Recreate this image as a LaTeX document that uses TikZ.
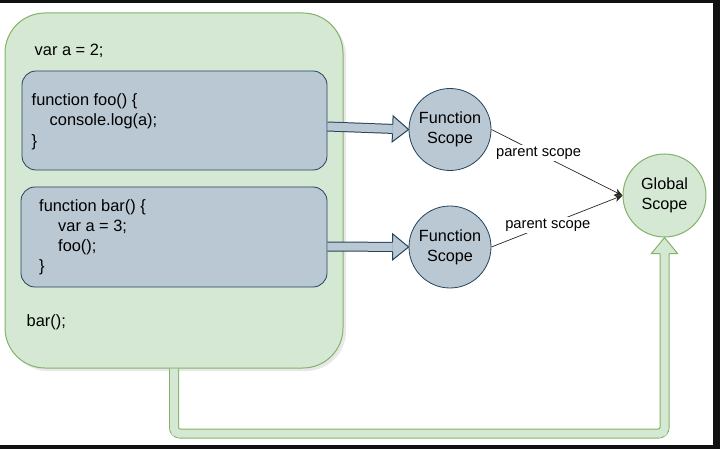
\documentclass[tikz,border=0pt]{standalone}
\usepackage{fontspec}
\setmainfont{Liberation Sans}
\usetikzlibrary{calc,arrows.meta,shadows}
\definecolor{gfill}{HTML}{D5E8D4}
\definecolor{gline}{HTML}{82B366}
\definecolor{bfill}{HTML}{BAC8D3}
\definecolor{bline}{HTML}{23445D}
\definecolor{framecol}{HTML}{111111}
% flat block arrow: #1 start, #2 tip, #3 colour prefix (b or g)
\newcommand\flexarr[3]{%
  \coordinate (fab) at ($(#2)!16pt!(#1)$);
  \draw[#3line, line width=10pt] (#1) -- (fab);
  \draw[#3fill, line width=8pt] (#1) -- (fab);
  \filldraw[fill=#3fill, draw=#3line, line width=1pt, line join=miter]
    ($(fab)!4.5pt!90:(#2)$) -- ($(fab)!13pt!90:(#2)$) -- (#2)
    -- ($(fab)!13pt!-90:(#2)$) -- ($(fab)!4.5pt!-90:(#2)$);
}
\begin{document}
\begin{tikzpicture}[x=1pt,y=-1pt,
  code/.style={font=\fontsize{16.4}{20.3}\selectfont, inner sep=0pt, anchor=west, align=left, text=black},
  outerbox/.style={draw=gline, fill=gfill, line width=1pt, rounded corners=40pt, inner sep=0pt,
     minimum width=338pt, minimum height=355pt,
     drop shadow={shadow xshift=3pt, shadow yshift=-3pt, opacity=0.18}},
  funbox/.style={draw=bline, fill=bfill, line width=0.8pt, rounded corners=14pt, inner sep=0pt},
  scopenode/.style={circle, draw=bline, fill=bfill, line width=0.8pt, minimum size=82pt, inner sep=0pt,
     align=center, font=\fontsize{16.2}{20}\selectfont, text=black},
  globalnode/.style={circle, draw=gline, fill=gfill, line width=1pt, minimum size=83pt, inner sep=0pt,
     align=center, font=\fontsize{16.2}{20}\selectfont, text=black},
  parentline/.style={draw=black!85, line width=0.7pt, -{Stealth[length=8pt,width=7pt]}},
  lbl/.style={fill=white, inner sep=1.5pt, font=\fontsize{14.7}{16}\selectfont, text=black}
]
\useasboundingbox (0,0) rectangle (720,449);
\fill[framecol] (0,0) rectangle (720,449);
\fill[white] (0,3) rectangle (713,445);

% outer global box
\node[outerbox] (outer) at (174,190.5) {};
% function boxes
\node[funbox, minimum width=305pt, minimum height=99pt] (foo) at (174.5,120.5) {};
\node[funbox, minimum width=306pt, minimum height=100pt] (bar) at (174,237) {};

% texts
\node[code] (t1) at (34.5,51) {var a = 2;};
\node[code] (t2) at (31.5,121.5) {function foo() \{\\\hspace*{18pt}console.log(a);\\\}};
\node[code] (t3) at (39,237.3) {function bar() \{\\\hspace*{19pt}var a = 3;\\\hspace*{19pt}foo();\\\}};
\node[code] (t4) at (26.5,322.5) {bar();};

% scope circles
\node[scopenode] (fs1) at (450,129.5) {Function\\Scope};
\node[scopenode] (fs2) at (450,247) {Function\\Scope};
\node[globalnode] (gs) at (664.5,195.5) {Global\\Scope};

% block arrows from functions to their scopes
\coordinate (a1s) at ($(foo.east)+(0,6)$);
\coordinate (a2s) at ($(bar.east)+(0,9.5)$);
\flexarr{a1s}{fs1.west}{b}
\flexarr{a2s}{fs2.west}{b}

% green block arrow from outer box to global scope
\coordinate (gb) at ($(gs.south)+(0,16)$);
\coordinate (gc1) at (outer.south |- 0,433.5);
\coordinate (gc2) at (gs.south |- 0,433.5);
\draw[gline, line width=10pt, rounded corners=6pt] (outer.south) -- (gc1) -- (gc2) -- (gb);
\draw[gfill, line width=8pt, rounded corners=5pt] (outer.south) -- (gc1) -- (gc2) -- (gb);
\filldraw[fill=gfill, draw=gline, line width=1pt, line join=miter]
  ($(gb)+(-4.5,0)$) -- ($(gb)+(-13,0)$) -- (gs.south) -- ($(gb)+(13,0)$) -- ($(gb)+(4.5,0)$);

% parent scope connectors
\draw[parentline] (fs1.east) -- (gs.west) node[lbl, pos=0.36] (l1) {parent scope};
\draw[parentline] (fs2.east) -- (gs.west) node[lbl, pos=0.43] (l2) {parent scope};
\end{tikzpicture}
\end{document}
